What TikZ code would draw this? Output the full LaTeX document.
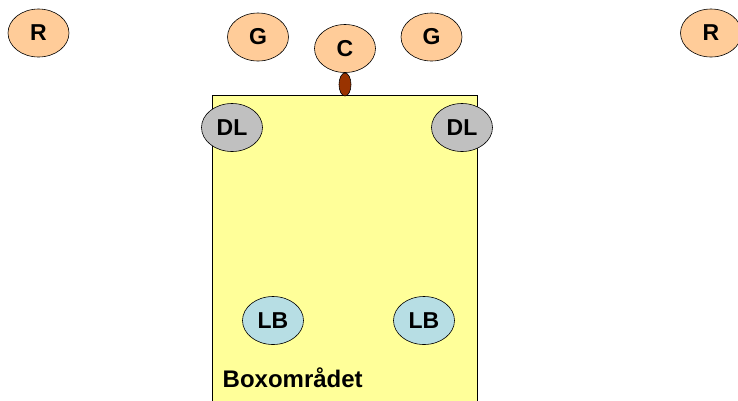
\documentclass[tikz,border=0pt]{standalone}
\usepackage{fontspec}
\setmainfont{Liberation Sans}
\usetikzlibrary{shapes.geometric}
\definecolor{peach}{HTML}{FFCC99}
\definecolor{boxyellow}{HTML}{FFFF99}
\definecolor{dlgray}{HTML}{C0C0C0}
\definecolor{lbblue}{HTML}{B7DEE4}
\definecolor{ballbrown}{HTML}{993300}
\begin{document}
\begin{tikzpicture}[
    x=1pt,
    y=-1pt,
    player/.style={
        ellipse,
        minimum width=61pt,
        minimum height=48pt,
        inner sep=0pt,
        draw=black,
        line width=0.6pt,
        font=\bfseries\fontsize{23}{27}\selectfont
    },
    attack/.style={fill=peach},
    defence/.style={fill=dlgray},
    back/.style={fill=lbblue},
    ball/.style={
        ellipse,
        minimum width=12pt,
        minimum height=23pt,
        inner sep=0pt,
        draw=black,
        line width=0.6pt,
        fill=ballbrown
    },
    area/.style={
        draw=black,
        line width=0.6pt,
        fill=boxyellow
    },
    label/.style={
        anchor=base west,
        inner sep=0pt,
        font=\bfseries\fontsize{24}{28}\selectfont
    }
]
\useasboundingbox (0,0) rectangle (738,400);

% Box
\draw[area] (212,95.5) rectangle (477,410);
\node[label] (boxtext) at (222.5,387.5) {Boxområdet};

% Ball
\node[ball] (boll) at (345,84.5) {};

% Attack
\node[player, attack] (rleft) at (38.5,33) {R};
\node[player, attack] (gleft) at (258,37) {G};
\node[player, attack] (c) at (345,48.5) {C};
\node[player, attack] (gright) at (431.5,37) {G};
\node[player, attack] (rright) at (711,33) {R};

% Defence
\node[player, defence] (dlleft) at (232,127.5) {DL};
\node[player, defence] (dlright) at (462,127.5) {DL};
\node[player, back] (lbleft) at (273,320.5) {LB};
\node[player, back] (lbright) at (424,320.5) {LB};

\end{tikzpicture}
\end{document}
